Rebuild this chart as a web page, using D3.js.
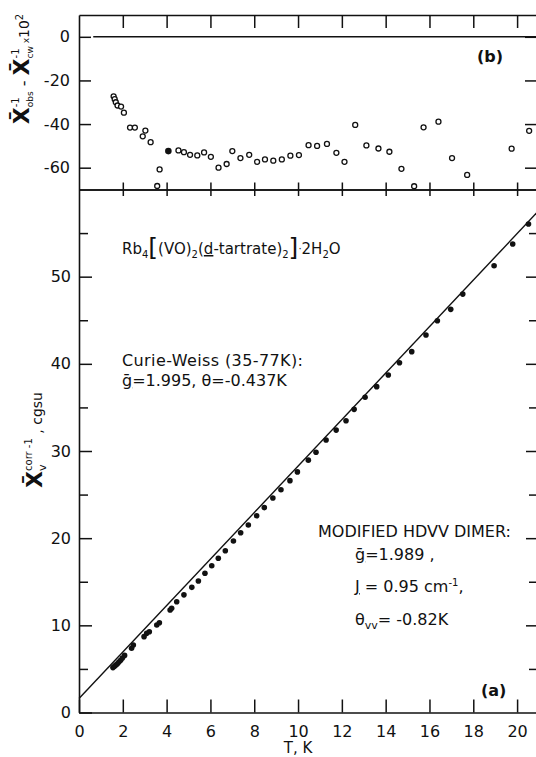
<!DOCTYPE html>
<html><head><meta charset="utf-8">
<script src="https://cdn.jsdelivr.net/npm/d3@7"></script>
<style>
body{margin:0;background:#fff;}
svg{display:block;}
text{font-family:"DejaVu Sans",sans-serif;fill:#111;}
</style></head>
<body>
<script>
// ---- data ----
// panel (a): corrected inverse susceptibility vs T
const tempA = [1.55,1.62,1.68,1.75,1.82,1.9,1.98,2.08,2.4,2.48,2.97,3.09,3.21,3.55,3.67,4.16,4.23,4.46,4.79,5.15,5.45,5.75,6.06,6.36,6.68,7.05,7.38,7.73,8.11,8.46,8.85,9.22,9.63,9.97,10.47,10.82,11.28,11.74,12.19,12.56,13.06,13.59,14.12,14.63,15.19,15.84,16.36,16.97,17.52,18.95,19.8,20.52];
const chiInvA = [5.15,5.3,5.45,5.6,5.8,6.0,6.25,6.55,7.37,7.74,8.7,9.08,9.27,10.04,10.3,11.76,11.95,12.7,13.5,14.36,15.08,15.97,16.84,17.69,18.56,19.67,20.63,21.51,22.58,23.5,24.6,25.55,26.6,27.6,28.95,29.85,31.26,32.4,33.47,34.78,36.16,37.38,38.72,40.13,41.4,43.3,44.95,46.25,48.0,51.26,53.75,56.04];
// Curie-Weiss line endpoints
const cwT = [0, 21];
const cwChiInv = [1.6, 57.6];
// panel (b): difference x 10^2 (open circles)
const tempB = [1.58,1.63,1.68,1.76,1.92,2.05,2.33,2.55,2.91,3.03,3.27,3.57,3.68,4.54,4.79,5.07,5.4,5.71,6.02,6.37,6.74,7.0,7.37,7.77,8.13,8.49,8.87,9.26,9.65,10.04,10.48,10.87,11.32,11.75,12.12,12.61,13.12,13.67,14.17,14.72,15.3,15.73,16.41,17.03,17.72,19.75,20.55];
const diffB = [-27.3,-28.6,-30.0,-31.5,-32,-34.8,-41.6,-41.6,-45.6,-43.0,-48.3,-68.4,-60.8,-52.1,-52.9,-54.1,-54.4,-53.0,-55.0,-60.0,-58.3,-52.4,-55.6,-54.1,-57.3,-56.2,-56.8,-56.2,-54.5,-54.2,-49.7,-50.0,-49.1,-53.2,-57.3,-40.4,-49.8,-51.2,-52.7,-60.5,-68.5,-41.5,-38.9,-55.6,-63.3,-51.3,-43.1];
// panel (b): filled point
const tempBFilled = [4.08];
const diffBFilled = [-52.4];
// ticks
const xTicks = [0,2,4,6,8,10,12,14,16,18,20];
const yTicksA = [0,10,20,30,40,50];
const yMinorA = [5,15,25,35,45,55];
const yTicksB = [0,-20,-40,-60];

const W = 536, H = 757;
const svg = d3.select("body").append("svg").attr("width", W).attr("height", H);
svg.append("rect").attr("width", W).attr("height", H).attr("fill", "#fff");

const x = d3.scaleLinear().domain([0, 21]).range([79, 539]);
const yA = d3.scaleLinear().domain([0, 60]).range([712.5, 189.5]);
const yB = d3.scaleLinear().domain([-70, 10]).range([189.5, 15]);

const ink = "#111";
function styleAxis(g, labelSize) {
  g.selectAll(".domain").attr("stroke", ink).attr("stroke-width", 1.6);
  g.selectAll(".tick line").attr("stroke", ink).attr("stroke-width", 1.5);
  g.selectAll(".tick text").attr("fill", ink).style("font-size", (labelSize || 16) + "px")
    .style("font-family", '"DejaVu Sans",sans-serif');
  g.attr("font-family", null).attr("font-size", null);
}

// ---- panel (a) axes ----
const gxA = svg.append("g").attr("transform", `translate(0,${yA(0)})`)
  .call(d3.axisBottom(x).tickValues(xTicks).tickSize(-13).tickSizeOuter(0).tickPadding(13).tickFormat(d3.format("d")));
styleAxis(gxA, 16);
const gyA = svg.append("g").attr("transform", `translate(${x(0)},0)`)
  .call(d3.axisLeft(yA).tickValues(yTicksA).tickSize(-13).tickSizeOuter(0).tickPadding(8).tickFormat(d3.format("d")));
styleAxis(gyA, 16);
const gyAm = svg.append("g").attr("transform", `translate(${x(0)},0)`)
  .call(d3.axisLeft(yA).tickValues(yMinorA).tickSize(-9).tickSizeOuter(0).tickFormat(""));
styleAxis(gyAm); gyAm.select(".domain").remove();
const gyAr = svg.append("g").attr("transform", `translate(${x(21)},0)`)
  .call(d3.axisRight(yA).tickValues(yTicksA.slice(1)).tickSize(-13).tickSizeOuter(0).tickFormat(""));
styleAxis(gyAr);
const gyArm = svg.append("g").attr("transform", `translate(${x(21)},0)`)
  .call(d3.axisRight(yA).tickValues(yMinorA).tickSize(-10).tickSizeOuter(0).tickFormat(""));
styleAxis(gyArm); gyArm.select(".domain").remove();

// shared border between panels (ticks straddle)
const gMidUp = svg.append("g").attr("transform", `translate(0,${yA(60)})`)
  .call(d3.axisTop(x).tickValues(xTicks.slice(1)).tickSize(7).tickSizeOuter(0).tickFormat(""));
styleAxis(gMidUp);
const gMidDn = svg.append("g").attr("transform", `translate(0,${yA(60)})`)
  .call(d3.axisBottom(x).tickValues(xTicks.slice(1)).tickSize(6.5).tickSizeOuter(0).tickFormat(""));
styleAxis(gMidDn);

// ---- panel (b) axes ----
const gxBt = svg.append("g").attr("transform", `translate(0,${yB(10)})`)
  .call(d3.axisTop(x).tickValues(xTicks.slice(1)).tickSize(-13).tickSizeOuter(0).tickFormat(""));
styleAxis(gxBt);
const gyB = svg.append("g").attr("transform", `translate(${x(0)},0)`)
  .call(d3.axisLeft(yB).tickValues(yTicksB).tickSize(-12).tickSizeOuter(0).tickPadding(9).tickFormat(d => String(d)));
styleAxis(gyB, 16);
const gyBr = svg.append("g").attr("transform", `translate(${x(21)},0)`)
  .call(d3.axisRight(yB).tickValues(yTicksB).tickSize(-14).tickSizeOuter(0).tickFormat(""));
styleAxis(gyBr);
// zero line in panel (b)
svg.append("line").attr("x1", x(0.65)).attr("x2", x(21)).attr("y1", yB(0)).attr("y2", yB(0))
  .attr("stroke", ink).attr("stroke-width", 1.5);

// ---- marks ----
svg.append("line").attr("x1", x(cwT[0])).attr("y1", yA(cwChiInv[0]))
  .attr("x2", x(cwT[1])).attr("y2", yA(cwChiInv[1]))
  .attr("stroke", ink).attr("stroke-width", 1.4);
svg.append("g").selectAll("circle").data(tempA.map((t, i) => [t, chiInvA[i]])).join("circle")
  .attr("cx", d => x(d[0])).attr("cy", d => yA(d[1])).attr("r", 2.8).attr("fill", ink);
svg.append("g").selectAll("circle").data(tempB.map((t, i) => [t, diffB[i]])).join("circle")
  .attr("cx", d => x(d[0])).attr("cy", d => yB(d[1])).attr("r", 2.5)
  .attr("fill", "#fff").attr("stroke", ink).attr("stroke-width", 1.3);
svg.append("g").selectAll("circle").data(tempBFilled.map((t, i) => [t, diffBFilled[i]])).join("circle")
  .attr("cx", d => x(d[0])).attr("cy", d => yB(d[1])).attr("r", 3.3).attr("fill", ink);

// ---- rich text helper ----
// seg: {t, s: shift (px, + = down), fs, u, b, stack}
function rich(sel, segs) {
  let prev = 0, prevNode = null, carry = 0;
  segs.forEach(sg => {
    const sh = sg.s || 0;
    const ts = sel.append("tspan").text(sg.t).attr("dy", sh - prev);
    prev = sh;
    if (sg.fs) ts.style("font-size", sg.fs + "px");
    if (sg.b) ts.style("font-weight", "bold");
    if (sg.u) ts.style("text-decoration", "underline");
    let dx = carry; carry = 0;
    if (sg.stack && prevNode) {
      const pl = prevNode.getComputedTextLength();
      dx += -pl;
      ts.attr("dx", dx);
      const tl = ts.node().getComputedTextLength();
      carry = Math.max(0, pl - tl);
    } else if (dx) ts.attr("dx", dx);
    prevNode = ts.node();
  });
  return sel;
}

// annotations
const t1 = svg.append("text").attr("x", 122).attr("y", 254).style("font-size", "15px");
rich(t1, [{t:"Rb"},{t:"4",s:4,fs:10},{t:"[",s:2,fs:25},{t:"(VO)",s:0},{t:"2",s:4,fs:10},{t:"(",s:0},{t:"d",u:true},{t:"-tartrate)"},{t:"2",s:4,fs:10},{t:"]",s:2,fs:25},{t:"·",s:-2,fs:10},{t:"2H",s:0},{t:"2",s:4,fs:10},{t:"O",s:0}]);

svg.append("text").attr("x", 122).attr("y", 366).style("font-size", "16px")
  .attr("textLength", 181).attr("lengthAdjust", "spacing").text("Curie-Weiss (35-77K):");
const t3 = svg.append("text").attr("x", 122).attr("y", 386).style("font-size", "16px");
rich(t3, [{t:"ḡ",u:true},{t:"=1.995,  θ=-0.437K"}]);

svg.append("text").attr("x", 318).attr("y", 537).style("font-size", "16px")
  .text("MODIFIED HDVV DIMER:");
const t5 = svg.append("text").attr("x", 355).attr("y", 560).style("font-size", "16px");
rich(t5, [{t:"ḡ",u:true},{t:"=1.989 ,"}]);
const t6 = svg.append("text").attr("x", 355).attr("y", 592).style("font-size", "16px");
rich(t6, [{t:"J",u:true},{t:" = 0.95 cm"},{t:"-1",s:-6,fs:10},{t:",",s:0}]);
const t7 = svg.append("text").attr("x", 355).attr("y", 625).style("font-size", "16px");
rich(t7, [{t:"θ"},{t:"vv",s:4,fs:11},{t:"= -0.82K",s:0}]);

svg.append("text").attr("x", 481).attr("y", 696).style("font-size", "16px").style("font-weight", "bold").text("(a)");
svg.append("text").attr("x", 477).attr("y", 62).style("font-size", "16px").style("font-weight", "bold").text("(b)");

// x axis title
svg.append("text").attr("x", x(10)).attr("y", 753).attr("text-anchor", "middle").style("font-size", "15px").text("T, K");

// y axis title panel (a)
const ya = svg.append("text").attr("transform", "translate(42,440) rotate(-90)").attr("text-anchor", "middle").style("font-size", "14px");
rich(ya, [{t:"X̄",fs:22,b:true},{t:"corr -1",s:-10,fs:10},{t:"v",s:4,fs:11,stack:true},{t:" ,  cgsu",s:0,fs:14}]);

// y axis title panel (b)
const yb = svg.append("text").attr("transform", "translate(29,69) rotate(-90)").attr("text-anchor", "middle").style("font-size", "14px");
rich(yb, [{t:"X̄",fs:22,b:true},{t:"-1",s:-10,fs:10},{t:"obs",s:4,fs:9,stack:true},{t:" - ",s:0,fs:16},{t:"X̄",fs:22,b:true},{t:"-1",s:-10,fs:10},{t:"cw",s:4,fs:9,stack:true},{t:" x",s:0,fs:9},{t:"10",fs:14},{t:"2",s:-6,fs:10},{t:"",s:0}]);
</script>
</body></html>
